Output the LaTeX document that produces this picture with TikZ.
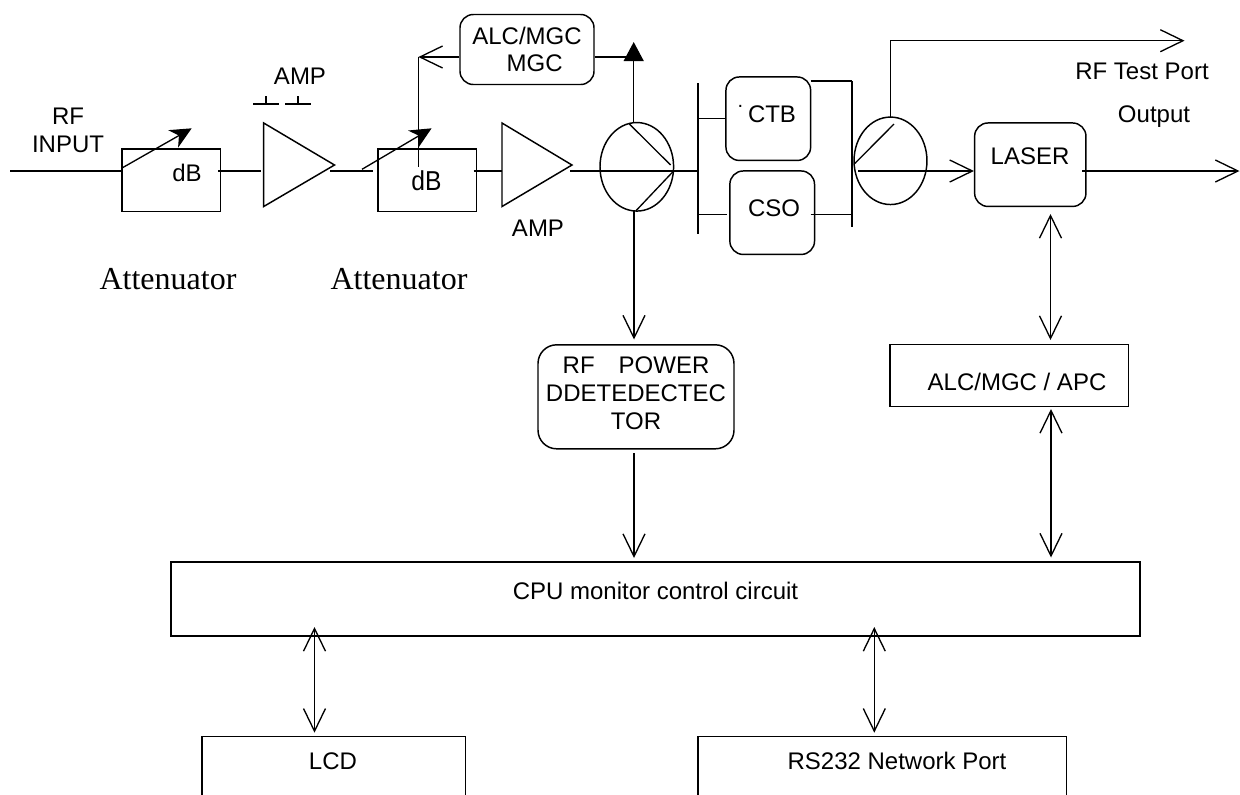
\documentclass[tikz,border=0pt]{standalone}
\usepackage{fontspec}
\setmainfont{Liberation Sans}
\newfontfamily\serifattn{Liberation Serif}
\newfontfamily\narrowdb[FakeStretch=0.9]{Liberation Sans}
\usetikzlibrary{arrows.meta,shapes.geometric}
\tikzset{
  wire/.style={line width=1pt},
  boxn/.style={draw,line width=1.1pt,inner sep=0pt,align=center,font=\fontsize{18}{21}\selectfont},
  rbox/.style={boxn,rounded corners=10pt},
  lbl/.style={inner sep=0pt,align=center,font=\fontsize{18}{21}\selectfont},
  attn/.style={inner sep=0pt,font=\serifattn\fontsize{24}{28}\selectfont},
  ell/.style={draw,ellipse,line width=1.1pt,inner sep=0pt},
  openarr/.style={-{Straight Barb[length=17pt,width=16.5pt,line width=1pt]}},
  dblarr/.style={{Straight Barb[length=17pt,width=16.5pt,line width=1pt]}-{Straight Barb[length=17pt,width=16.5pt,line width=1pt]}},
  bigarr/.style={-{Triangle[length=14.3pt,width=15pt]}},
  adjarr/.style={-{Stealth[length=16pt,width=15pt,inset=5pt]}},
  amp/.style={draw,line width=1.1pt}
}
\begin{document}
\begin{tikzpicture}[x=0.75pt,y=-0.75pt]
\useasboundingbox (0,0) rectangle (1240,794);
% boxes
\node[boxn,minimum width=73.95pt,minimum height=46.9pt] (att1) at (171.3,180.2) {};
\node[boxn,minimum width=73.95pt,minimum height=46.9pt] (att2) at (427.2,180.2) {};
\node[rbox,minimum width=100.5pt,minimum height=52.5pt] (alc) at (527,49.5) {};
\node[rbox,minimum width=63.5pt,minimum height=62.6pt] (ctb) at (768.3,118.7) {};
\node[rbox,minimum width=63.5pt,minimum height=62.6pt] (cso) at (772.2,212.7) {};
\node[rbox,minimum width=83.5pt,minimum height=62.6pt] (laser) at (1030.3,164.7) {};
\node[boxn,minimum width=179pt,minimum height=46.5pt] (apc) at (1009.3,375.7) {};
\node[rbox,rounded corners=14pt,minimum width=147pt,minimum height=78pt] (power) at (636,396.8) {};
\node[boxn,minimum width=727pt,minimum height=55.5pt] (cpu) at (655.5,599) {};
\begin{scope}
\clip (0,0) rectangle (1240,794);
\node[boxn,minimum width=197.8pt,minimum height=60pt] (lcd) at (333.8,776.5) {};
\node[boxn,minimum width=276.5pt,minimum height=60pt] (rs) at (882.3,776.5) {};
\end{scope}
% amplifiers and ellipses
\coordinate (a1a) at (263.7,123); \coordinate (a1b) at (263.7,206.5); \coordinate (a1c) at (334.5,165);
\coordinate (a2a) at (502,123); \coordinate (a2b) at (502,206.5); \coordinate (a2c) at (572,165);
\draw[amp] (a1a) -- (a1b) -- (a1c) -- cycle;
\draw[amp] (a2a) -- (a2b) -- (a2c) -- cycle;
\node[ell,minimum width=55.2pt,minimum height=66.4pt] (e1) at (636.8,166.8) {};
\node[ell,minimum width=54.7pt,minimum height=65.6pt] (e2) at (890.5,160.8) {};
% texts
\node[lbl] (talc1) at (527,35.5) {ALC/MGC};
\node[lbl] (talc2) at (534.6,63.5) {MGC};
\node[lbl] (trf) at (68,130.5) {RF\\INPUT};
\node[lbl] (tdb1) at (187,173) {dB};
\node[lbl,font=\narrowdb\fontsize{20.5}{24}\selectfont] (tdb2) at (426.5,181) {dB};
\node[lbl] (tamp1) at (300,76.7) {AMP};
\node[lbl] (tamp2) at (538,228.5) {AMP};
\node[attn] (tat1) at (168,279) {Attenuator};
\node[attn] (tat2) at (399,279) {Attenuator};
\node[lbl] (tctb) at (772,114.7) {CTB};
\node[lbl,font=\fontsize{15}{18}\selectfont] (tdot) at (740.5,106.5) {.};
\node[lbl] (tcso) at (774,208.7) {CSO};
\node[lbl] (tlas) at (1030,156.7) {LASER};
\node[lbl] (trft) at (1142,71) {RF Test Port};
\node[lbl] (tout) at (1154,116.5) {Output};
\node[lbl] (tapc) at (1017,382) {ALC/MGC / APC};
\node[lbl] (tpow) at (636,393) {RF \hspace{8pt} POWER\\DDETEDECTEC\\TOR};
\node[lbl] (tcpu) at (655.5,591) {CPU monitor control circuit};
\node[lbl] (tlcd) at (333,761) {LCD};
\node[lbl] (trs) at (897,761) {RS232 Network Port};
% free coordinates
\coordinate (in) at (10,171);
\coordinate (w1a) at (218,171); \coordinate (a1in) at (261,171); \coordinate (a1out) at (330,171);
\coordinate (a2l) at (372.5,171);
\coordinate (w2a) at (473.6,171); \coordinate (a2in) at (502,171); \coordinate (a2out) at (570,171);
\coordinate (out) at (1239.5,171); \coordinate (lasout) at (1082,171);
\coordinate (barl) at (698,171);
\coordinate (barlt) at (698,83.3); \coordinate (barlb) at (698,233.5);
\coordinate (barrt) at (852,81); \coordinate (barrb) at (852,227);
\coordinate (ctbout) at (810.6,81); \coordinate (csoout) at (810.6,214.3);
\coordinate (barrc) at (852,214.3);
\coordinate (barlc) at (698,214.3); \coordinate (csoin) at (727,214.3);
\coordinate (barld) at (698,118.7);
\coordinate (tapbot) at (890.4,117); \coordinate (tapj) at (890.4,40.7); \coordinate (tapend) at (1184.5,40.7);
\coordinate (alcup) at (418.4,57); \coordinate (alcdb) at (418.4,167);
\coordinate (sensj) at (633.7,57); \coordinate (senst) at (633.7,42); \coordinate (sensb) at (633.7,123);
\coordinate (detb) at (634,211); \coordinate (dett) at (634,339.5);
\coordinate (pb) at (634,453); \coordinate (pc) at (634,558);
\coordinate (lu1) at (1050.5,214); \coordinate (lu2) at (1050.5,340);
\coordinate (lu3) at (1051,409); \coordinate (lu4) at (1051,557.5);
\coordinate (ld1) at (314.5,627); \coordinate (ld2) at (314.5,732.7);
\coordinate (rd1) at (874.3,627); \coordinate (rd2) at (874.3,732.7);
\coordinate (ea) at (629.4,124); \coordinate (eb) at (670.6,165);
\coordinate (ec) at (673.6,171); \coordinate (ed) at (636,210.7);
\coordinate (ee) at (855,163.3); \coordinate (ef) at (894,124);
\coordinate (e2in) at (858,171);
\coordinate (adj1a) at (122,168); \coordinate (adj1b) at (191.7,128.3);
\coordinate (adj2a) at (362,169.3); \coordinate (adj2b) at (431.6,128.3);
\coordinate (s1a) at (253,104); \coordinate (s1b) at (279,104); \coordinate (s1c) at (266,96); \coordinate (s1d) at (266,104);
\coordinate (s2a) at (285,104); \coordinate (s2b) at (311,104); \coordinate (s2c) at (298,96); \coordinate (s2d) at (298,104);
% wires
\draw[wire] (in) -- (att1.west |- in);
\draw[wire] (w1a) -- (a1in);
\draw[wire] (a1out) -- (a2l);
\draw[wire] (w2a) -- (a2in);
\draw[wire] (a2out) -- (barl);
\draw[wire] (barlt) -- (barlb);
\draw[wire] (barrt) -- (barrb);
\draw[wire] (barld) -- (ctb.west |- barld);
\draw[wire] (barlc) -- (csoin);
\draw[wire] (ctbout) -- (barrt);
\draw[wire] (csoout) -- (barrc);
\draw[wire,openarr] (e2in) -- (laser.west |- in);
\draw[wire,openarr] (lasout) -- (out);
\draw[wire,openarr] (alc.west |- alcup) -- (alcup);
\draw[wire] (alcup) -- (alcdb);
\draw[wire] (alc.east |- alcup) -- (sensj);
\draw[wire,bigarr] (sensb) -- (senst);
\draw[wire] (ea) -- (eb);
\draw[wire] (ec) -- (ed);
\draw[wire] (ee) -- (ef);
\draw[wire,openarr] (tapbot) -- (tapj) -- (tapend);
\draw[wire,openarr] (detb) -- (dett);
\draw[wire,openarr] (pb) -- (pc);
\draw[wire,dblarr] (lu1) -- (lu2);
\draw[wire,dblarr] (lu3) -- (lu4);
\draw[wire,dblarr] (ld1) -- (ld2);
\draw[wire,dblarr] (rd1) -- (rd2);
% adjusters
\draw[wire,adjarr] (adj1a) -- (adj1b);
\draw[wire,adjarr] (adj2a) -- (adj2b);
% AMP supply marks
\draw[wire] (s1a) -- (s1b) (s1c) -- (s1d);
\draw[wire] (s2a) -- (s2b) (s2c) -- (s2d);
\end{tikzpicture}
\end{document}
